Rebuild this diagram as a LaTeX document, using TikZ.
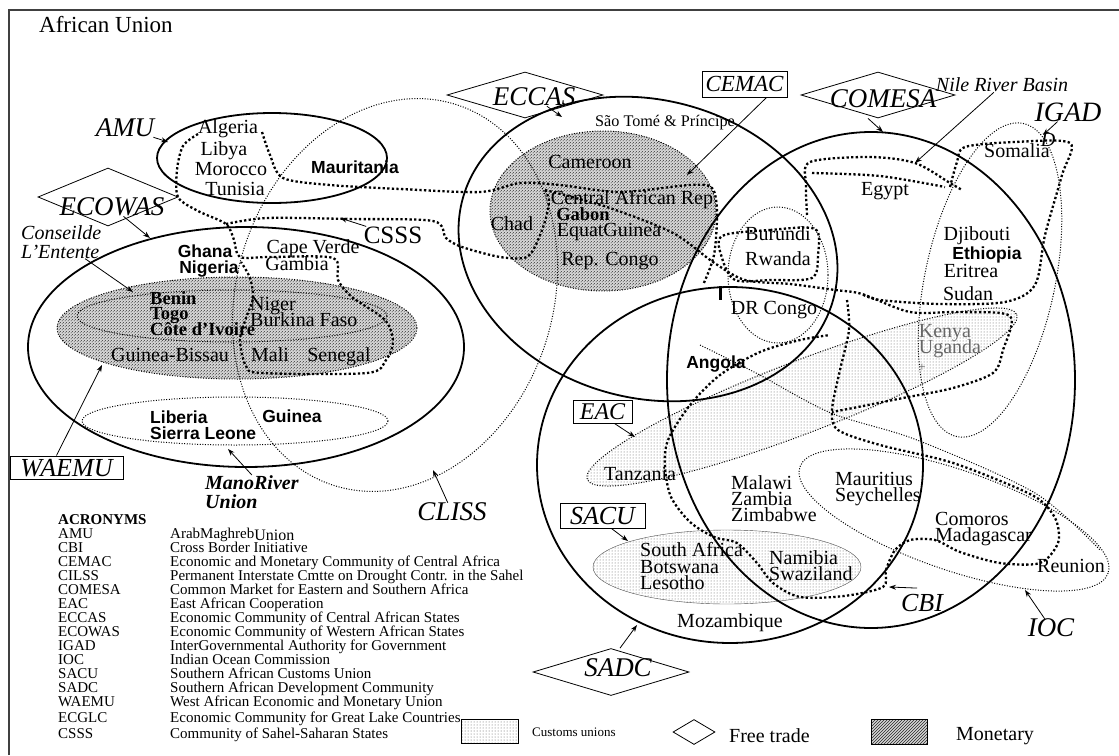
\documentclass[tikz,border=0pt]{standalone}
\usepackage{fontspec}
\setmainfont{Liberation Serif}
\newfontfamily\labsans{Liberation Sans}
\usetikzlibrary{shapes.geometric,patterns,arrows.meta}

\newcommand\ctry{\fontsize{20}{21}\selectfont}
\newcommand\ctrybf{\labsans\bfseries\fontsize{17.5}{18}\selectfont}
\newcommand\ctryserbf{\bfseries\fontsize{18.5}{19}\selectfont}
\newcommand\grp{\itshape\fontsize{27}{28}\selectfont}
\newcommand\lst{\fontsize{15}{15}\selectfont}

\tikzset{
  ring/.style={line width=1.8pt},
  finedot/.style={line width=1pt, dash pattern=on 1pt off 1.6pt},
  heavydot/.style={line width=2.3pt, dash pattern=on 2.3pt off 2.3pt},
  monetary/.style={preaction={fill=black!16}, pattern=north east lines, pattern color=black!85},
  customs/.style={pattern=dots, pattern color=black!65},
  cname/.style={inner sep=0pt, font=\ctry, text height=0.6em, text depth=0.1em},
  cbold/.style={cname, font=\ctrybf},
  cserbold/.style={cname, font=\ctryserbf},
  grplab/.style={inner sep=0pt, font=\grp},
  tradebox/.style={diamond, draw, line width=0.8pt, inner sep=0pt},
  unionbox/.style={draw, line width=1pt, inner sep=0pt},
  pointer/.style={->, line width=0.8pt},
  acrow/.style={anchor=west, inner sep=0pt, font=\lst, text height=9.5pt, text depth=0.5pt},
}

\begin{document}
\begin{tikzpicture}[x=1pt, y=-1pt, >={Stealth[length=7pt, width=5pt]}]
\useasboundingbox (0,0) rectangle (1119,755);

% frame
\draw[line width=1.4pt, black!75] (9,755) -- (9,10) -- (1119,10);
\node[anchor=west, inner sep=0pt, font=\fontsize{23}{23}\selectfont] (au) at (39,25) {African Union};

% monetary and customs unions
\draw[finedot, monetary] (237,328) ellipse [x radius=180, y radius=51];
\draw[finedot, monetary] (603,211) ellipse [x radius=113, y radius=80];
\draw[finedot, customs] (802,397) ellipse [x radius=230, y radius=36, rotate=21];
\draw[thin, black!70, customs] (727,567) ellipse [x radius=134, y radius=37];

% thin dotted groupings
\draw[finedot] (232,316) ellipse [x radius=155, y radius=26];
\draw[finedot] (235,421) ellipse [x radius=153, y radius=24];
\draw[finedot] (395,295) ellipse [x radius=158, y radius=200, rotate=-18];
\draw[finedot] (778,275) ellipse [x radius=50, y radius=68];
\draw[finedot] (990,280) ellipse [x radius=65, y radius=160, rotate=-12];
\draw[finedot] (954,520) ellipse [x radius=163, y radius=50, rotate=-19];
\draw[finedot] plot[smooth] coordinates {(700,345) (756,373) (831,413) (917,440) (1035,493) (1100,550)};

% heavy dotted groupings
\draw[heavydot] plot[smooth, tension=0.5] coordinates {(198,134) (183,146) (177,170) (178,197) (198,211) (226,224) (234,240) (240,257) (270,257) (333,258) (338,280) (352,297) (385,320) (393,342) (386,360) (367,373) (262,373) (246,366) (240,340) (246,318) (253,298) (250,278) (241,262)};
\draw[heavydot] plot[smooth, tension=0.5] coordinates {(262,132) (270,155) (283,178) (330,185) (400,189) (480,192) (520,183) (560,185) (620,192) (690,185) (712,188) (717,212) (714,255) (703,285)};
\draw[heavydot] plot[smooth, tension=0.5] coordinates {(226,224) (267,218) (350,219) (433,221) (446,238) (462,247) (500,257) (527,257) (538,240) (546,218) (549,200) (545,190)};
\draw[heavydot] plot[smooth, tension=0.5] coordinates {(545,190) (607,207) (673,233) (713,262) (745,280) (790,284) (835,290) (862,294) (910,312) (960,312) (1010,316) (1003,350) (993,373) (953,388) (903,398) (853,408) (832,412)};
\draw[heavydot] plot[smooth, tension=0.5] coordinates {(950,187) (957,162) (965,147) (1015,142) (1070,143) (1062,175) (1045,235) (1035,285) (1005,302) (940,304) (880,300) (862,294)};
\draw[heavydot] plot[smooth, tension=0.5] coordinates {(807,215) (806,185) (810,162) (870,157) (915,163) (950,183) (962,190)};
\draw[heavydot] plot[smooth, tension=0.5] coordinates {(812,173) (880,176) (945,187)};
\draw[heavydot] plot[smooth cycle, tension=0.5] coordinates {(722,236) (770,230) (815,229) (818,255) (812,278) (770,280) (735,280) (722,258)};
\draw[heavydot] plot[smooth, tension=0.5] coordinates {(847,300) (849,330) (840,370) (832,410) (838,430) (880,445) (950,462) (1010,485) (1040,500) (1056,520) (1058,543) (1040,563) (1000,563) (960,552) (935,540) (910,540) (895,550) (886,570) (883,587) (844,596) (800,597) (773,583) (757,563) (737,543) (714,537) (690,522) (671,497) (665,467) (668,440) (690,405) (720,375) (760,352) (800,340) (830,335)};
\draw[line width=3pt] (720,286) -- (720,300);

% free trade areas
\draw[ring] (272,158) ellipse [x radius=115, y radius=45];
\draw[ring] (246,347) ellipse [x radius=218, y radius=120];
\draw[ring] (648,249) ellipse [x radius=192, y radius=149, rotate=-15];
\draw[ring] (871,380) ellipse [x radius=204, y radius=248];
\draw[ring] (730,465) ellipse [x radius=193, y radius=178];

% group labels
\node[grplab] (amu) at (125,128) {AMU};
\coordinate (amuring) at (168,142);
\draw[pointer] (amu) -- (amuring);

\node[tradebox, minimum width=140pt, minimum height=58pt] (ecowasd) at (108,197) {};
\node[grplab] (ecowas) at (112,207) {ECOWAS};
\coordinate (ecowasring) at (150,238);
\draw[pointer] (ecowas) -- (ecowasring);

\node[anchor=west, align=left, inner sep=0pt, font=\itshape\fontsize{20}{19}\selectfont] (conseil) at (21,242) {Conseilde\\L'Entente};
\coordinate (entente) at (133,292);
\draw[pointer] (conseil) -- (entente);

\node[unionbox, font=\itshape\fontsize{26}{26}\selectfont, minimum width=113pt, minimum height=23pt, text height=17pt, text depth=0pt] (waemu) at (66.5,467.5) {WAEMU};
\coordinate (waemufill) at (102,365);
\draw[pointer] ([xshift=-10pt]waemu.north) -- (waemufill);

\node[anchor=north west, align=left, inner sep=0pt, font=\bfseries\itshape\fontsize{20}{19}\selectfont] (mano) at (205,475) {ManoRiver\\Union};
\coordinate (manoring) at (228,449);
\draw[pointer] (mano.north) -- (manoring);

\node[inner sep=0pt, font=\fontsize{25}{25}\selectfont] (csss) at (393,235) {CSSS};
\coordinate (csssline) at (340,218);
\draw[pointer] (csss) -- (csssline);

\node[grplab] (cliss) at (452,512) {CLISS};
\coordinate (clissring) at (433,470);
\draw[pointer] (cliss) -- (clissring);

\node[tradebox, minimum width=156pt, minimum height=46pt] (eccasd) at (525,95) {};
\node[grplab] (eccas) at (534,97) {ECCAS};
\coordinate (eccasring) at (562,117);
\draw[pointer] (eccas) -- (eccasring);

\node[unionbox, font=\itshape\fontsize{23}{23}\selectfont, minimum width=85pt, minimum height=26pt] (cemac) at (744.5,84) {CEMAC};
\coordinate (cemacfill) at (687,175);
\draw[pointer] ([xshift=22pt]cemac.south) -- (cemacfill);

\node[tradebox, minimum width=154pt, minimum height=46pt] (comesad) at (878,95) {};
\node[grplab] (comesa) at (883,99) {COMESA};
\coordinate (comesaring) at (883,132);
\draw[pointer] ([xshift=-10pt]comesad.south) -- (comesaring);

\node[inner sep=0pt, font=\itshape\ctry] (nile) at (1002,85) {Nile River Basin};
\coordinate (nileline) at (915,163);
\draw[pointer] (nile) -- (nileline);

\node[inner sep=0pt, font=\itshape\fontsize{28}{28}\selectfont] (igad) at (1068,112) {IGAD};
\node[inner sep=0pt, font=\itshape\fontsize{20}{20}\selectfont] (igadd) at (1048,140) {D};
\coordinate (igadline) at (1043,135);
\draw[pointer] (igad) -- (igadline);

\node[unionbox, font=\itshape\fontsize{24}{24}\selectfont, minimum width=59pt, minimum height=23pt, text height=16pt, text depth=0pt] (eac) at (602.5,411.5) {EAC};
\coordinate (eacfill) at (635,437);
\draw[pointer] ([xshift=12pt]eac.south) -- (eacfill);

\node[unionbox, font=\itshape\fontsize{26}{26}\selectfont, minimum width=85pt, minimum height=25pt, text height=17pt, text depth=0pt] (sacu) at (602.5,515.5) {SACU};
\coordinate (sacufill) at (628,541);
\draw[pointer] ([xshift=9pt]sacu.south) -- (sacufill);

\node[tradebox, minimum width=156pt, minimum height=47pt] (sadcd) at (611,672) {};
\node[grplab] (sadc) at (618,668) {SADC};
\coordinate (sadcring) at (637,625);
\draw[pointer] ([xshift=9pt]sadcd.north) -- (sadcring);

\node[inner sep=0pt, font=\itshape\fontsize{26}{26}\selectfont] (cbi) at (922,603) {CBI};
\coordinate (cbiline) at (889,587);
\draw[pointer] (cbi.north) ++(-5,-6) -- (cbiline);

\node[grplab] (ioc) at (1051,628) {IOC};
\coordinate (iocring) at (1025,590);
\draw[pointer] (ioc) -- (iocring);

% countries: north and west
\node[cname] (algeria) at (228,131) {Algeria};
\node[cname] (libya) at (224,153) {Libya};
\node[cname] (morocco) at (231,173) {Morocco};
\node[cname] (tunisia) at (235,193) {Tunisia};
\node[cbold] (mauritania) at (355,171) {Mauritania};
\node[cbold] (ghana) at (205,255) {Ghana};
\node[cbold] (nigeria) at (209,271) {Nigeria};
\node[cname] (capeverde) at (313,251) {Cape Verde};
\node[cname] (gambia) at (297,268) {Gambia};
\node[cserbold, anchor=west] (benin) at (150,302) {Benin};
\node[cserbold, anchor=west] (togo) at (150,317) {Togo};
\node[cserbold, anchor=west] (cote) at (150,333) {Côte d'Ivoire};
\node[cname, anchor=west] (niger) at (250,308) {Niger};
\node[cname, anchor=west] (burkina) at (250,324) {Burkina Faso};
\node[cname] (bissau) at (170,359) {Guinea-Bissau};
\node[cname] (mali) at (270,359) {Mali};
\node[cname] (senegal) at (339,359) {Senegal};
\node[cbold, anchor=west] (liberia) at (150,421) {Liberia};
\node[cbold, anchor=west] (sierra) at (150,437) {Sierra Leone};
\node[cbold] (guinea) at (292,420) {Guinea};

% countries: centre
\node[cname, font=\fontsize{16.2}{17}\selectfont] (saotome) at (665,124) {São Tomé \& Príncipe};
\node[cname] (cameroon) at (590,166) {Cameroon};
\node[cname] (car) at (632,202) {Central African Rep};
\node[cserbold] (gabon) at (583,218) {Gabon};
\node[cname] (eqguinea) at (609,234) {EquatGuinea};
\node[cname] (chad) at (512,228) {Chad};
\node[cname] (repcongo) at (610,263) {Rep. Congo};
\node[cname] (burundi) at (778,238) {Burundi};
\node[cname] (rwanda) at (778,263) {Rwanda};
\node[cname] (drcongo) at (774,312) {DR Congo};
\node[cbold] (angola) at (716,366) {Angola};

% countries: east
\node[cname] (egypt) at (885,193) {Egypt};
\node[cname] (somalia) at (1017,155) {Somalia};
\node[cname] (djibouti) at (977,238) {Djibouti};
\node[cbold] (ethiopia) at (987,257) {Ethiopia};
\node[cname] (eritrea) at (971,275) {Eritrea};
\node[cname] (sudan) at (968,298) {Sudan};
\node[cname, text=black!60] (kenya) at (945,335) {Kenya};
\node[cname, text=black!60] (uganda) at (950,351) {Uganda};
\node[inner sep=0pt, text=black!60, font=\fontsize{13}{13}\selectfont] (plus) at (922,368) {+};
\node[cname] (tanzania) at (640,478) {Tanzania};

% countries: south
\node[cname, anchor=west] (malawi) at (731,487) {Malawi};
\node[cname, anchor=west] (zambia) at (731,503) {Zambia};
\node[cname, anchor=west] (zimbabwe) at (731,519) {Zimbabwe};
\node[cname, anchor=west] (mauritius) at (835,483) {Mauritius};
\node[cname, anchor=west] (seychelles) at (835,499) {Seychelles};
\node[cname, anchor=west] (comoros) at (935,523) {Comoros};
\node[cname, anchor=west] (madagascar) at (935,539) {Madagascar};
\node[cname, anchor=west] (reunion) at (1037,570) {Reunion};
\node[cname, anchor=west] (southafrica) at (640,554) {South Africa};
\node[cname, anchor=west] (botswana) at (640,571) {Botswana};
\node[cname, anchor=west] (lesotho) at (640,587) {Lesotho};
\node[cname, anchor=west] (namibia) at (769,562) {Namibia};
\node[cname, anchor=west] (swaziland) at (769,578) {Swaziland};
\node[cname] (mozambique) at (730,625) {Mozambique};

% acronyms
\node[acrow, font=\bfseries\lst] (acrhead) at (58,520) {ACRONYMS};
\foreach \yy/\ac/\desc in {
  534/AMU/{ArabMaghreb\raisebox{-1.5pt}{\fontsize{16}{16}\selectfont Union}},
  548/CBI/{Cross Border Initiative},
  562/CEMAC/{Economic and Monetary Community of Central Africa},
  576/CILSS/{Permanent Interstate Cmtte on Drought Contr. in the Sahel},
  590/COMESA/{Common Market for Eastern and Southern Africa},
  604/EAC/{East African Cooperation},
  618/ECCAS/{Economic Community of Central African States},
  632/ECOWAS/{Economic Community of Western African States},
  646/IGAD/{InterGovernmental Authority for Government},
  660/IOC/{Indian Ocean Commission},
  674/SACU/{Southern African Customs Union},
  688/SADC/{Southern African Development Community},
  702/WAEMU/{West African Economic and Monetary Union},
  718/ECGLC/{Economic Community for Great Lake Countries},
  734/CSSS/{Community of Sahel-Saharan States}} {
  \node[acrow] (ac-\ac) at (58,\yy) {\ac};
  \node[acrow] (de-\ac) at (170,\yy) {\desc};
}

% legend
\node[draw, line width=1pt, customs, minimum width=57pt, minimum height=24pt] (custbox) at (489.5,731) {};
\node[anchor=west, inner sep=0pt, font=\fontsize{13}{13}\selectfont] (custtxt) at (532,732) {Customs unions};
\node[tradebox, minimum width=42pt, minimum height=25pt] (ftdiam) at (694,732) {};
\node[anchor=west, inner sep=0pt, font=\ctry] (fttxt) at (729,736) {Free trade};
\node[draw, line width=1pt, monetary, minimum width=56pt, minimum height=25pt] (monbox) at (899,731.5) {};
\node[anchor=west, inner sep=0pt, font=\ctry] (montxt) at (956,736) {Monetary};
\end{tikzpicture}
\end{document}
